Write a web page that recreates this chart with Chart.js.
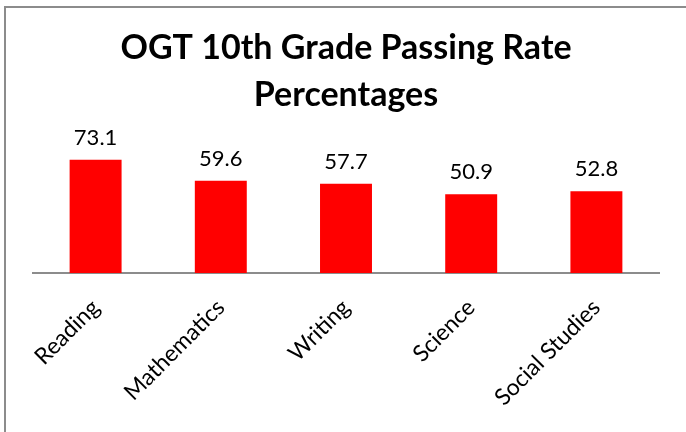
<!DOCTYPE html>
<html>
<head>
<meta charset="utf-8">
<script src="https://cdn.jsdelivr.net/npm/chart.js@4"></script>
<style>
    html, body { margin: 0; padding: 0; background: #fff; }
    #wrap { position: relative; width: 686px; height: 432px; overflow: hidden; }
    #frame {
        position: absolute; left: 4px; top: 6px; right: -4px; bottom: -4px;
        border-left: 2px solid #8c8c8c; border-top: 2px solid #8c8c8c;
    }
    #chart { position: absolute; left: 0; top: 0; }
</style>
</head>
<body>
<div id="wrap">
    <div id="frame"></div>
    <canvas id="chart" width="686" height="432"></canvas>
</div>
<script>
const categories = ['Reading', 'Mathematics', 'Writing', 'Science', 'Social Studies'];
const passingRates = [73.1, 59.6, 57.7, 50.9, 52.8];
const titleLines = ['OGT 10th Grade Passing Rate', 'Percentages'];

const fontFamily = 'Lato, "Open Sans", sans-serif';

// Write the value above each bar
const valueLabels = {
    id: 'valueLabels',
    afterDatasetsDraw(chart) {
        const ctx = chart.ctx;
        const meta = chart.getDatasetMeta(0);
        ctx.save();
        ctx.font = '22px ' + fontFamily;
        ctx.fillStyle = '#000';
        ctx.textAlign = 'center';
        ctx.textBaseline = 'alphabetic';
        meta.data.forEach((bar, i) => {
            ctx.fillText(passingRates[i].toFixed(1), bar.x, bar.y - 15);
        });
        ctx.restore();
    }
};

new Chart(document.getElementById('chart'), {
    type: 'bar',
    data: {
        labels: categories,
        datasets: [{
            data: passingRates,
            backgroundColor: '#ff0000',
            borderWidth: 0,
            categoryPercentage: 1,
            barPercentage: 0.415
        }]
    },
    options: {
        responsive: false,
        animation: false,
        layout: { padding: { top: 25, left: 33, right: 27, bottom: 0 } },
        plugins: {
            legend: { display: false },
            tooltip: { enabled: false },
            title: {
                display: true,
                text: titleLines,
                color: '#000',
                font: { family: fontFamily, size: 34, weight: 'bold', lineHeight: 1.37 },
                padding: { top: 0, bottom: 0 }
            }
        },
        scales: {
            x: {
                grid: { display: false },
                border: { display: true, color: '#8c8c8c', width: 2 },
                ticks: {
                    color: '#000',
                    font: { family: fontFamily, size: 23 },
                    maxRotation: 45,
                    minRotation: 45,
                    padding: 13
                },
                afterFit(scale) { scale.height = 159; }
            },
            y: {
                display: false,
                min: 0,
                max: 100
            }
        }
    },
    plugins: [valueLabels]
});
</script>
</body>
</html>
